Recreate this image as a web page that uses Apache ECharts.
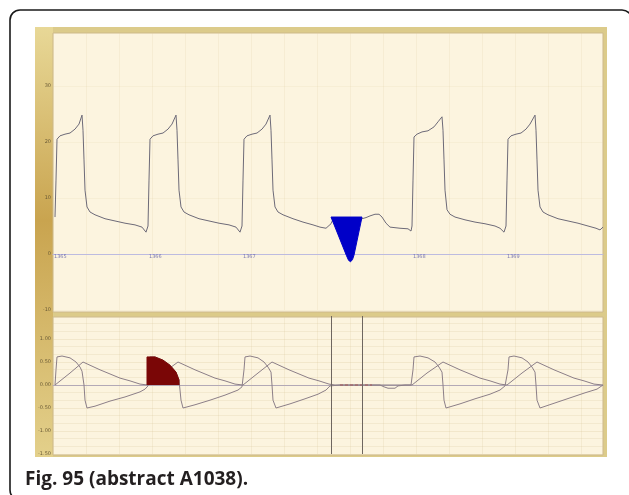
<!DOCTYPE html>
<html>
<head>
<meta charset="utf-8">
<script src="https://cdn.jsdelivr.net/npm/echarts@6/dist/echarts.min.js"></script>
<style>html,body{margin:0;padding:0;background:#fff;}#c{width:629px;height:495px;}</style>
</head>
<body>
<div id="c"></div>
<script>
// ---- data (time in ms) ----
const caption = 'Fig. 95 (abstract A1038).';
const pressureTrace = [[20,6.6],[30,13.2],[40,20.5],[70,21.1],[120,21.4],[170,21.6],[220,22.3],[260,23.2],[290,24.8],[300,22.1],[310,16.8],[320,11.4],[340,8.4],[370,7.5],[420,7.0],[520,6.3],[620,5.9],[720,5.5],[820,5.2],[890,4.8],[930,3.9],[950,5.0],[960,13.2],[970,20.5],[1000,21.1],[1050,21.4],[1100,21.6],[1150,22.3],[1190,23.2],[1230,24.8],[1240,22.1],[1250,16.8],[1260,11.4],[1280,8.4],[1310,7.5],[1360,7.0],[1460,6.3],[1560,5.9],[1660,5.5],[1760,5.2],[1830,4.8],[1870,3.9],[1890,5.0],[1900,13.2],[1910,20.5],[1940,21.1],[1990,21.4],[2040,21.6],[2090,22.3],[2130,23.2],[2170,24.8],[2180,22.1],[2190,16.8],[2200,11.4],[2220,8.4],[2250,7.5],[2300,7.0],[2400,6.3],[2500,5.7],[2600,5.2],[2670,4.8],[2730,4.6],[2780,5.4],[2800,6.2],[3000,6.4],[3090,6.3],[3130,6.5],[3170,6.8],[3220,7.1],[3260,7.1],[3290,6.6],[3330,5.5],[3370,4.8],[3470,4.6],[3550,4.5],[3580,4.1],[3590,5.0],[3600,13.2],[3610,20.9],[3640,21.4],[3690,21.8],[3750,22.0],[3810,22.7],[3850,23.6],[3890,24.5],[3900,22.1],[3910,16.8],[3920,11.4],[3940,7.9],[3970,7.1],[4020,6.6],[4120,6.1],[4220,5.7],[4320,5.4],[4420,5.0],[4470,4.6],[4510,3.9],[4530,5.0],[4540,13.2],[4550,20.5],[4580,21.1],[4630,21.4],[4680,21.6],[4730,22.3],[4770,23.2],[4820,24.8],[4830,22.1],[4840,16.8],[4850,11.4],[4870,8.4],[4900,7.5],[4950,7.0],[5050,6.3],[5150,5.9],[5250,5.5],[5350,5.0],[5430,4.6],[5470,4.3],[5500,4.8]];
const blueMarker = [[2780,6.6],[3090,6.6],[3010,-0.2],[2995,-1.0],[2975,-1.4],[2955,-1.1],[2935,-0.3]];
const beatTimes = [20, 970, 1910, 3610, 4550];
const beatLabels = ['1365', '1366', '1367', '1368', '1369'];
const topTicks = [-10, 0, 10, 20, 30];
const flowA = [[20,0],[30,0.33],[40,0.61],[90,0.63],[170,0.59],[230,0.50],[270,0.39],[290,0.30],[310,0],[320,-0.33],[340,-0.50],[420,-0.46],[570,-0.35],[720,-0.26],[870,-0.15],[920,-0.09],[950,-0.02],
  [955,0],[960,0.33],[970,0.61],[1020,0.61],[1100,0.54],[1170,0.43],[1230,0.28],[1260,0.11],[1270,-0.11],[1280,-0.33],[1300,-0.50],[1420,-0.43],[1570,-0.33],[1720,-0.22],[1850,-0.11],[1890,-0.04],
  [1900,0],[1910,0.33],[1920,0.61],[1970,0.63],[2050,0.59],[2110,0.50],[2150,0.39],[2180,0.28],[2190,0],[2200,-0.33],[2230,-0.50],[2370,-0.41],[2520,-0.30],[2650,-0.20],[2730,-0.11],[2770,-0.02],
  [2870,0],[3190,0],[3270,0],[3310,-0.04],[3350,-0.07],[3420,-0.07],[3450,-0.02],[3520,0],[3580,0],
  [3590,0],[3600,0.33],[3610,0.61],[3670,0.63],[3750,0.59],[3820,0.50],[3860,0.39],[3890,0.28],[3900,0],[3910,-0.33],[3930,-0.50],[4070,-0.41],[4220,-0.30],[4370,-0.20],[4470,-0.11],[4520,-0.02],
  [4540,0],[4550,0.33],[4560,0.61],[4610,0.63],[4690,0.59],[4750,0.50],[4790,0.39],[4820,0.28],[4830,0],[4840,-0.33],[4870,-0.50],[5020,-0.39],[5170,-0.28],[5320,-0.17],[5440,-0.09],[5500,0]];
const flowB = [[20,0],[170,0.26],[300,0.50],[370,0.43],[470,0.33],[570,0.24],[670,0.15],[770,0.09],[870,0.02],[950,0],
  [1100,0.26],[1250,0.50],[1320,0.43],[1420,0.33],[1520,0.24],[1620,0.15],[1720,0.09],[1820,0.02],[1900,0],
  [2050,0.26],[2190,0.50],[2260,0.43],[2360,0.33],[2460,0.24],[2560,0.15],[2660,0.09],[2760,0.02],[2820,0],
  [3590,0],[3740,0.26],[3900,0.50],[3970,0.43],[4070,0.33],[4170,0.24],[4270,0.15],[4370,0.09],[4470,0.02],[4540,0],
  [4690,0.26],[4840,0.50],[4910,0.43],[5010,0.33],[5110,0.24],[5210,0.15],[5310,0.09],[5410,0.02],[5500,0]];
const redHump = [[940,0],[940,0.61],[1020,0.61],[1100,0.54],[1170,0.43],[1230,0.28],[1260,0.11],[1260,0]];
const pauseSegment = [[2870,0],[3190,0]];
const cursorTimes = [2780, 3090];

const chart = echarts.init(document.getElementById('c'), null, {renderer: 'canvas'});
const cream = '#fcf4df';
const labelStyle = {fontSize: 5, color: '#6a5a35', margin: 2, fontFamily: 'DejaVu Sans'};

const option = {
  animation: false,
  backgroundColor: '#ffffff',
  title: {
    text: caption, left: 25, top: 470, padding: 0,
    textStyle: {fontSize: 19, fontWeight: 'bold', color: '#231f20', fontFamily: 'Open Sans'}
  },
  graphic: [
    {type: 'rect', z: -20, silent: true, shape: {x: 35, y: 27, width: 572, height: 430},
      style: {fill: '#dccb8a'}},
    {type: 'rect', z: -19, silent: true, shape: {x: 35, y: 27, width: 18, height: 430},
      style: {fill: new echarts.graphic.LinearGradient(0, 0, 0, 1, [
        {offset: 0, color: '#e8d897'}, {offset: 0.45, color: '#c9a44f'}, {offset: 1, color: '#e3d08b'}])}},
    {type: 'rect', z: -18, silent: true, shape: {x: 53, y: 33, width: 550, height: 279},
      style: {fill: cream, stroke: '#cdb98a', lineWidth: 1}},
    {type: 'rect', z: -18, silent: true, shape: {x: 53, y: 317, width: 550, height: 138},
      style: {fill: cream, stroke: '#cdb98a', lineWidth: 1}},
    {type: 'rect', z: 100, silent: true, shape: {x: 10, y: 10, width: 622, height: 490, r: 10},
      style: {fill: 'none', stroke: '#1a1a1a', lineWidth: 1.6}}
  ],
  grid: [
    {left: 53, right: 26, top: 30, height: 280},
    {left: 53, right: 26, top: 316, height: 138}
  ],
  xAxis: [
    {gridIndex: 0, type: 'value', min: 0, max: 5500, interval: 330,
      axisLine: {show: true, onZero: true, lineStyle: {color: '#bdbbe0', width: 1}},
      axisTick: {show: false}, axisLabel: {show: false},
      splitLine: {show: true, lineStyle: {color: 'rgba(215,196,150,0.16)', width: 1}}},
    {gridIndex: 1, type: 'value', min: 0, max: 5500, interval: 330,
      axisLine: {show: true, onZero: true, lineStyle: {color: '#b3a9b6', width: 1}},
      axisTick: {show: false}, axisLabel: {show: false},
      splitLine: {show: true, lineStyle: {color: 'rgba(215,196,150,0.2)', width: 1}}}
  ],
  yAxis: [
    {gridIndex: 0, type: 'value', min: -10, max: 40, interval: 10,
      axisLine: {show: false}, axisTick: {show: false},
      axisLabel: Object.assign({}, labelStyle, {showMaxLabel: false,
        formatter: v => topTicks.indexOf(v) >= 0 ? String(v) : ''}),
      splitLine: {show: true, lineStyle: {color: 'rgba(215,196,150,0.12)'}}},
    {gridIndex: 1, type: 'value', min: -1.5, max: 1.5, interval: 0.5,
      axisLine: {show: false}, axisTick: {show: false},
      axisLabel: Object.assign({}, labelStyle, {showMaxLabel: false, formatter: v => v.toFixed(2)}),
      splitLine: {show: true, lineStyle: {color: 'rgba(215,196,150,0.28)'}},
      minorTick: {show: false, splitNumber: 3},
      minorSplitLine: {show: true, lineStyle: {color: 'rgba(215,196,150,0.22)'}}}
  ],
  series: [
    {type: 'line', xAxisIndex: 0, yAxisIndex: 0, data: pressureTrace, symbol: 'none',
      lineStyle: {color: '#6d6a78', width: 1}, z: 3},
    {type: 'custom', xAxisIndex: 0, yAxisIndex: 0, data: [0], z: 5,
      renderItem: function (params, api) {
        return {type: 'polygon', shape: {points: blueMarker.map(p => api.coord(p))},
          style: {fill: '#0000c8', stroke: '#0000c8', lineWidth: 1, lineJoin: 'round'}};
      }},
    {type: 'scatter', xAxisIndex: 0, yAxisIndex: 0, symbolSize: 0, z: 4,
      data: beatTimes.map((t, i) => ({value: [t, 0], name: beatLabels[i]})),
      label: {show: true, position: 'right', distance: 0, offset: [-1, 3], formatter: p => p.name,
        fontSize: 5, color: '#5b5ba5', fontFamily: 'DejaVu Sans'}},
    {type: 'line', xAxisIndex: 1, yAxisIndex: 1, data: redHump, symbol: 'none', z: 4,
      lineStyle: {color: '#7a0606', width: 1}, areaStyle: {color: '#7a0606', opacity: 1}},
    {type: 'line', xAxisIndex: 1, yAxisIndex: 1, data: flowA, symbol: 'none', z: 3,
      lineStyle: {color: '#8c7f88', width: 1}},
    {type: 'line', xAxisIndex: 1, yAxisIndex: 1, data: flowB, symbol: 'none', z: 3,
      lineStyle: {color: '#8c7f88', width: 1},
      markLine: {silent: true, symbol: 'none', label: {show: false},
        lineStyle: {color: '#6e6660', width: 1, type: 'solid'},
        data: cursorTimes.map(t => ({xAxis: t}))}},
    {type: 'line', xAxisIndex: 1, yAxisIndex: 1, data: pauseSegment, symbol: 'none', z: 4,
      lineStyle: {color: '#a85a5a', width: 1.2, type: [3, 2]}}
  ]
};
chart.setOption(option);
</script>
</body>
</html>
